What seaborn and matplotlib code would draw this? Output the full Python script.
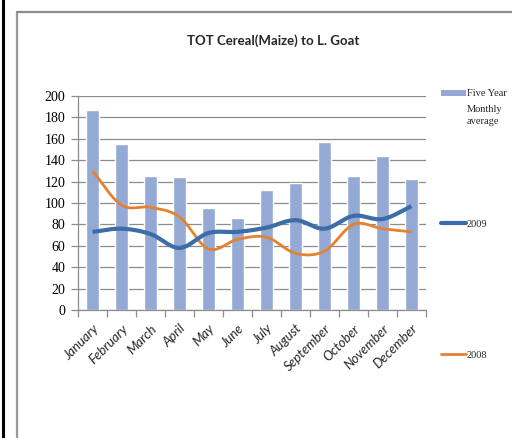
import numpy as np
import pandas as pd
import matplotlib
matplotlib.use("Agg")
import matplotlib.pyplot as plt
from matplotlib.lines import Line2D
from matplotlib.patches import Rectangle
import seaborn as sns

months = ["January", "February", "March", "April", "May", "June", "July",
          "August", "September", "October", "November", "December"]
five_year_avg = [187, 155, 125, 124, 95, 86, 112, 119, 157, 125, 144, 122]
y2009 = [73, 76, 71, 58, 72, 73, 77, 84, 76, 88, 85, 97]
y2008 = [130, 98, 96, 87, 57, 66, 68, 53, 55, 80, 76, 73]
yticks = [0, 20, 40, 60, 80, 100, 120, 140, 160, 180, 200]

BAR_C = "#94A9D3"
C2009 = "#3C6DA9"
C2008 = "#E5822F"
GRID_C = "#8C8C8C"


def smooth(xs, ys, n=20):
    """Catmull-Rom curve through the data points (Excel-style smoothed line)."""
    xs = np.asarray(xs, float)
    ys = np.asarray(ys, float)
    px = np.concatenate([[2 * xs[0] - xs[1]], xs, [2 * xs[-1] - xs[-2]]])
    py = np.concatenate([[2 * ys[0] - ys[1]], ys, [2 * ys[-1] - ys[-2]]])
    ox, oy = [], []
    for i in range(1, len(px) - 2):
        t = np.linspace(0, 1, n, endpoint=False)
        for arr, out in ((px, ox), (py, oy)):
            p0, p1, p2, p3 = arr[i - 1], arr[i], arr[i + 1], arr[i + 2]
            out.extend(0.5 * ((2 * p1) + (-p0 + p2) * t
                              + (2 * p0 - 5 * p1 + 4 * p2 - p3) * t ** 2
                              + (-p0 + 3 * p1 - 3 * p2 + p3) * t ** 3))
    ox.append(xs[-1]); oy.append(ys[-1])
    return np.array(ox), np.array(oy)


sns.set_theme(style="white")
plt.rcParams["font.family"] = ["Liberation Serif", "DejaVu Serif"]

df = pd.DataFrame({"month": months, "avg": five_year_avg})

fig = plt.figure(figsize=(5.12, 4.38), dpi=100)
ax = fig.add_axes([78 / 512, 1 - 310 / 438, 348 / 512, 214 / 438])

sns.barplot(data=df, x="month", y="avg", color=BAR_C, saturation=1,
            width=0.42, ax=ax, zorder=2)

xpos = np.arange(len(months))
sx, sy = smooth(xpos, y2009)
ax.plot(sx, sy, color=C2009, lw=3.0, solid_capstyle="butt", zorder=4)
sx, sy = smooth(xpos, y2008)
ax.plot(sx, sy, color=C2008, lw=2.0, solid_capstyle="butt", zorder=3)

ax.set_xlim(-0.5, len(months) - 0.5)
ax.set_ylim(0, 200)
ax.set_yticks(yticks)
ax.set_yticklabels([str(v) for v in yticks], fontsize=10,
                   family=["Liberation Serif"])
ax.yaxis.grid(True, color=GRID_C, lw=0.9, zorder=0)
ax.xaxis.grid(False)
ax.set_axisbelow(True)
ax.set_xlabel("")
ax.set_ylabel("")

ax.set_xticks(xpos)
ax.set_xticklabels(months, rotation=45, ha="right", rotation_mode="anchor",
                   fontsize=9.5, style="italic", family=["Lato", "DejaVu Sans"],
                   color="#262626")
ax.set_xticks(np.arange(-0.5, len(months), 1), minor=True)
ax.tick_params(axis="x", which="major", length=0, pad=9)
ax.tick_params(axis="x", which="minor", length=5, width=0.9, color=GRID_C,
               direction="out", bottom=True)
ax.tick_params(axis="y", length=5, width=0.9, color=GRID_C, direction="out",
               left=True, pad=4, labelcolor="black")

for s in ["top", "right"]:
    ax.spines[s].set_visible(False)
for s in ["left", "bottom"]:
    ax.spines[s].set_color(GRID_C)
    ax.spines[s].set_linewidth(0.9)

fig.text(273 / 512, 1 - 41 / 438, "TOT Cereal(Maize) to L. Goat",
         ha="center", va="center", fontsize=9.5, fontweight="bold",
         family=["Lato", "DejaVu Sans"])

# legend entries placed like the original
LEG_FS = 7.5
LEG_X = 441 / 512
h_bar = Rectangle((0, 0), 1, 1, facecolor=BAR_C, edgecolor="none")
fig.legend([h_bar], ["Five Year"], loc="center left",
           bbox_to_anchor=(LEG_X, 1 - 94 / 438), frameon=False,
           fontsize=LEG_FS, handlelength=2.4, handleheight=0.6,
           handletextpad=0.1, borderaxespad=0, borderpad=0)
fig.text(467 / 512, 1 - 105 / 438, "Monthly\naverage", ha="left", va="top",
         fontsize=LEG_FS, linespacing=1.4)
fig.legend([Line2D([], [], color=C2009, lw=3)], ["2009"],
           loc="center left", bbox_to_anchor=(LEG_X, 1 - 224 / 438),
           frameon=False, fontsize=LEG_FS, handlelength=2.4,
           handletextpad=0.1, borderaxespad=0, borderpad=0)
fig.legend([Line2D([], [], color=C2008, lw=2)], ["2008"],
           loc="center left", bbox_to_anchor=(LEG_X, 1 - 355 / 438),
           frameon=False, fontsize=LEG_FS, handlelength=2.4,
           handletextpad=0.1, borderaxespad=0, borderpad=0)

# chart frame and page edge
fig.add_artist(Line2D([16.5 / 512, 16.5 / 512], [0, 1 - 12 / 438],
                      transform=fig.transFigure, color="#9A9A9A", lw=1.6))
fig.add_artist(Line2D([16.5 / 512, 1], [1 - 12 / 438, 1 - 12 / 438],
                      transform=fig.transFigure, color="#8C8C8C", lw=1.6))
fig.add_artist(Line2D([3 / 512, 3 / 512], [0, 1],
                      transform=fig.transFigure, color="black", lw=2.2))

fig.savefig("out.png", dpi=100)
